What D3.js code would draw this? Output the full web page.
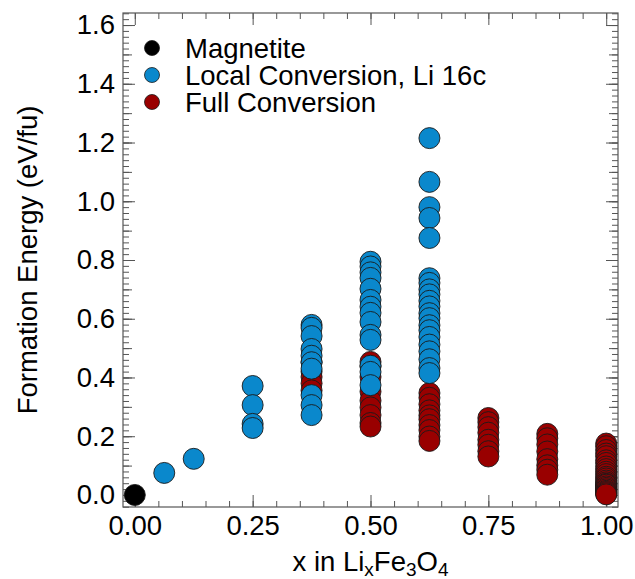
<!DOCTYPE html>
<html>
<head>
<meta charset="utf-8">
<script src="https://cdn.jsdelivr.net/npm/d3@7"></script>
<style>
  body { margin: 0; background: #fff; }
  text { font-family: "Liberation Sans", Arial, Helvetica, sans-serif; fill: #000; }
</style>
</head>
<body>
<div id="chart"></div>
<script>
// Data: x in LixFe3O4 and formation energy (eV/fu)
var magnetiteX = [0.0];
var magnetiteE = [0.0];

var localX = [0.0625, 0.125,
  0.25, 0.25, 0.25, 0.25,
  0.375, 0.375, 0.375, 0.375, 0.375, 0.375, 0.375, 0.375, 0.375, 0.375,
  0.5, 0.5, 0.5, 0.5, 0.5, 0.5, 0.5, 0.5, 0.5, 0.5, 0.5, 0.5, 0.5, 0.5,
  0.625, 0.625, 0.625, 0.625, 0.625, 0.625, 0.625, 0.625, 0.625, 0.625, 0.625,
  0.625, 0.625, 0.625, 0.625, 0.625, 0.625, 0.625, 0.625, 0.625, 0.625];
var localE = [0.075, 0.123,
  0.371, 0.306, 0.242, 0.228,
  0.579, 0.569, 0.541, 0.497, 0.474, 0.452, 0.430, 0.340, 0.306, 0.272,
  0.794, 0.778, 0.758, 0.739, 0.702, 0.664, 0.641, 0.620, 0.589, 0.545, 0.528, 0.440, 0.419, 0.374,
  1.215, 1.066, 0.980, 0.943, 0.875, 0.738, 0.722, 0.700, 0.683, 0.661, 0.642,
  0.619, 0.602, 0.578, 0.561, 0.538, 0.512, 0.489, 0.462, 0.432, 0.415];

var fullX = [0.375, 0.375, 0.375, 0.375, 0.375,
  0.5, 0.5, 0.5, 0.5, 0.5, 0.5, 0.5, 0.5, 0.5,
  0.625, 0.625, 0.625, 0.625, 0.625, 0.625, 0.625, 0.625, 0.625, 0.625,
  0.75, 0.75, 0.75, 0.75, 0.75, 0.75, 0.75, 0.75,
  0.875, 0.875, 0.875, 0.875, 0.875, 0.875, 0.875, 0.875,
  1.0, 1.0, 1.0, 1.0, 1.0, 1.0, 1.0, 1.0, 1.0, 1.0, 1.0, 1.0,
  1.0, 1.0, 1.0, 1.0, 1.0, 1.0, 1.0, 1.0, 1.0, 1.0, 1.0,
  1.0, 1.0, 1.0, 1.0, 1.0, 1.0, 1.0, 1.0];
var fullE = [0.452, 0.420, 0.402, 0.380, 0.356,
  0.453, 0.438, 0.402, 0.352, 0.321, 0.298, 0.272, 0.245, 0.233,
  0.347, 0.331, 0.309, 0.288, 0.271, 0.258, 0.238, 0.221, 0.199, 0.184,
  0.262, 0.248, 0.231, 0.212, 0.188, 0.171, 0.149, 0.131,
  0.208, 0.193, 0.172, 0.148, 0.122, 0.101, 0.086, 0.069,
  0.175, 0.166, 0.153, 0.141, 0.132, 0.118, 0.109, 0.097, 0.088, 0.079, 0.071, 0.062,
  0.056, 0.049, 0.043, 0.038, 0.032, 0.027, 0.022, 0.017, 0.013, 0.008, 0.004,
  0.035, 0.029, 0.024, 0.019, 0.014, 0.010, 0.006, 0.002];

var legendNames = ["Magnetite", "Local Conversion, Li 16c", "Full Conversion"];
var legendColors = ["#000000", "#0a88cc", "#990000"];

var xMajor = [0, 0.25, 0.5, 0.75, 1.0];
var yMajor = [0, 0.2, 0.4, 0.6, 0.8, 1.0, 1.2, 1.4, 1.6];

var width = 635, height = 579;
var margin = {top: 13, right: 17, bottom: 72, left: 123};
var w = width - margin.left - margin.right,
    h = height - margin.top - margin.bottom;

var svg = d3.select("#chart").append("svg")
    .attr("width", width)
    .attr("height", height);

var g = svg.append("g")
    .attr("transform", "translate(" + margin.left + "," + margin.top + ")");

var x = d3.scaleLinear().domain([-0.025, 1.025]).range([0, w]);
var y = d3.scaleLinear().domain([-0.041, 1.641]).range([h, 0]);

var axisColor = "#555";
var fontSize = 27.5;

// helper: draw one axis with ticks pointing into the plot
function drawAxis(axisFn, scale, transform, values, size, labels) {
  var a = axisFn(scale).tickValues(values).tickSizeInner(-size).tickSizeOuter(0);
  if (labels) a.tickFormat(labels).tickPadding(8);
  else a.tickFormat("");
  var sel = g.append("g").attr("transform", transform).call(a);
  sel.select(".domain").remove();
  sel.selectAll(".tick line").attr("stroke", axisColor);
  sel.selectAll(".tick text")
    .style("font-size", fontSize + "px")
    .attr("fill", "#000");
  return sel;
}

// minor / medium / major ticks on all four sides
var xMinor = x.ticks(20);
var yMinor = y.ticks(80);
var yMid = y.ticks(16);

drawAxis(d3.axisBottom, x, "translate(0," + h + ")", xMinor, 6);
drawAxis(d3.axisTop, x, "translate(0,0)", xMinor, 6);
drawAxis(d3.axisBottom, x, "translate(0," + h + ")", xMajor, 12, d3.format(".2f"));
drawAxis(d3.axisTop, x, "translate(0,0)", xMajor, 12);

drawAxis(d3.axisLeft, y, "translate(0,0)", yMinor, 6);
drawAxis(d3.axisRight, y, "translate(" + w + ",0)", yMinor, 6);
drawAxis(d3.axisLeft, y, "translate(0,0)", yMid, 9);
drawAxis(d3.axisRight, y, "translate(" + w + ",0)", yMid, 9);
drawAxis(d3.axisLeft, y, "translate(0,0)", yMajor, 12, d3.format(".1f"));
drawAxis(d3.axisRight, y, "translate(" + w + ",0)", yMajor, 12);

// frame
g.append("rect")
  .attr("width", w).attr("height", h)
  .attr("fill", "none")
  .attr("stroke", axisColor)
  .attr("stroke-width", 1.2);

// points
function drawSeries(xs, es, color) {
  g.append("g").selectAll("circle")
    .data(xs.map(function(d, i) { return [d, es[i]]; }))
    .enter().append("circle")
    .attr("cx", function(d) { return x(d[0]); })
    .attr("cy", function(d) { return y(d[1]); })
    .attr("r", 10.5)
    .attr("fill", color)
    .attr("stroke", "#1a1a1a")
    .attr("stroke-width", 0.9);
}
drawSeries(fullX, fullE, legendColors[2]);
drawSeries(localX, localE, legendColors[1]);
drawSeries(magnetiteX, magnetiteE, legendColors[0]);

// legend
var legend = svg.append("g").attr("transform", "translate(152,48)");
legendNames.forEach(function(name, i) {
  legend.append("circle")
    .attr("cx", 0).attr("cy", i * 27)
    .attr("r", 7.5)
    .attr("fill", legendColors[i])
    .attr("stroke", "#1a1a1a")
    .attr("stroke-width", 0.8);
  legend.append("text")
    .attr("x", 33).attr("y", i * 27)
    .attr("dy", "0.35em")
    .style("font-size", fontSize + "px")
    .text(name);
});

// axis titles
var xt = svg.append("text")
  .attr("x", margin.left + w / 2)
  .attr("y", 571)
  .attr("text-anchor", "middle")
  .style("font-size", fontSize + "px");
xt.append("tspan").text("x in Li");
xt.append("tspan").attr("dy", 5).style("font-size", "19px").text("x");
xt.append("tspan").attr("dy", -5).text("Fe");
xt.append("tspan").attr("dy", 5).style("font-size", "19px").text("3");
xt.append("tspan").attr("dy", -5).text("O");
xt.append("tspan").attr("dy", 5).style("font-size", "19px").text("4");

svg.append("text")
  .attr("transform", "translate(37," + (margin.top + h / 2) + ") rotate(-90)")
  .attr("text-anchor", "middle")
  .style("font-size", fontSize + "px")
  .text("Formation Energy (eV/fu)");
</script>
</body>
</html>
